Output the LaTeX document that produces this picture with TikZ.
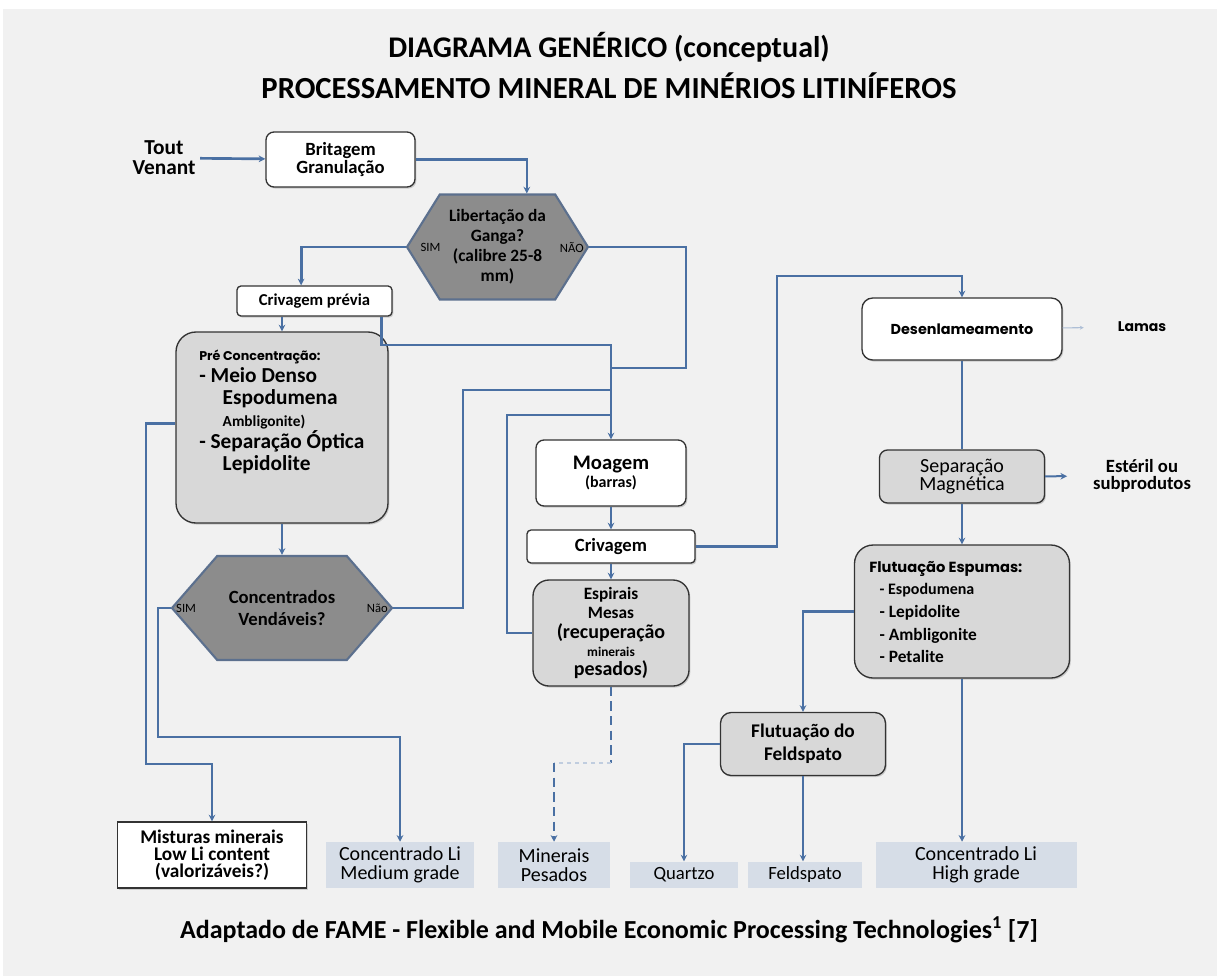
\documentclass[tikz,border=0pt]{standalone}
\usepackage{fontspec}
\setmainfont{Carlito}
\newfontfamily\geofont{Poppins}
\usetikzlibrary{arrows.meta,positioning,shapes.symbols,shadows}

\definecolor{flow}{RGB}{74,112,163}
\definecolor{panel}{RGB}{241,241,241}
\definecolor{procgray}{RGB}{216,216,216}
\definecolor{hexgray}{RGB}{140,140,140}
\definecolor{hexedge}{RGB}{92,112,142}
\definecolor{outblue}{RGB}{214,221,231}

\begin{document}
\begin{tikzpicture}[x=0.75pt, y=-0.75pt,
  box/.style={draw=black!80, line width=1pt, rounded corners=6pt, fill=white,
              align=center, inner sep=2pt, font=\bfseries\fontsize{12.5}{13}\selectfont,
              drop shadow={shadow xshift=1pt, shadow yshift=-1.2pt, opacity=.35}},
  gbox/.style={box, fill=procgray},
  hex/.style={shape=signal, signal to=east and west, draw=hexedge, line width=1.6pt,
              fill=hexgray, align=center, inner sep=0pt},
  prod/.style={fill=outblue, align=center, inner sep=0pt,
               font=\fontsize{15}{14.5}\selectfont},
  tag/.style={inner sep=1pt, font=\fontsize{9.5}{10}\selectfont},
  arr/.style={-{Stealth[length=5pt,width=5pt]}, flow, line width=2pt},
  ln/.style={flow, line width=2pt}]

  % panel
  \useasboundingbox (0,0) rectangle (1217,976);
  \fill[panel] (3,9) rectangle (1217,976);

  % title and source
  \node[font=\bfseries\fontsize{22.5}{23}\selectfont] (title1) at (609,47) {DIAGRAMA GENÉRICO (conceptual)};
  \node[font=\bfseries\fontsize{23}{23}\selectfont] (title2) at (609,86) {PROCESSAMENTO MINERAL DE MINÉRIOS LITINÍFEROS};
  \node[font=\bfseries\fontsize{19.5}{20}\selectfont] (fonte) at (609,930)
    {Adaptado de FAME - Flexible and Mobile Economic Processing Technologies\textsuperscript{1} [7]};

  % crushing and first decision
  \node[font=\bfseries\fontsize{16}{15}\selectfont, align=center] (tv) at (164,158) {Tout\\Venant};
  \node[box, minimum width=111.75pt, minimum height=41.25pt,
        font=\bfseries\fontsize{14}{14}\selectfont] (brit) at (340.5,159.5) {Britagem\\Granulação};
  \node[hex, minimum width=135.75pt, minimum height=78.75pt, signal pointer angle=116,
        font=\bfseries\fontsize{13}{15}\selectfont] (lib) at (497.5,247)
    {Libertação da\\Ganga?\\(calibre 25-8\\mm)};
  \node[tag, anchor=west] (libsim) at ([xshift=10pt]lib.west) {SIM};
  \node[tag, anchor=east] (libnao) at ([xshift=-3pt]lib.east) {NÃO};

  % pre-concentration branch
  \node[box, minimum width=116.25pt, minimum height=22.5pt, rounded corners=3pt] (crivp) at (314.5,301) {Crivagem prévia};
  \node[gbox, minimum width=159pt, minimum height=143.25pt, rounded corners=15pt] (pre) at (282,427.5) {};
  \node[anchor=north west, align=left, inner sep=0pt, font=\bfseries\fontsize{16}{16.5}\selectfont] (pretxt) at (199,350)
    {{\geofont\fontsize{9.5}{10}\selectfont Pré Concentração:}\\
     - Meio Denso\\
     \hspace*{1.1em}Espodumena\\
     \hspace*{1.1em}{\fontsize{11.5}{12}\selectfont Ambligonite)}\\
     - Separação Óptica\\
     \hspace*{1.1em}Lepidolite};
  \node[hex, minimum width=165pt, minimum height=78pt, signal pointer angle=98,
        font=\bfseries\fontsize{14}{16}\selectfont] (conc) at (282,608) {Concentrados\\Vendáveis?};
  \node[tag, anchor=west] (concsim) at ([xshift=3pt]conc.west) {SIM};
  \node[tag, anchor=east] (concnao) at ([xshift=-3pt]conc.east) {Não};

  % grinding and gravity
  \node[box, minimum width=112.5pt, minimum height=49.5pt] (moag) at (611,473)
    {{\fontsize{15.5}{15}\selectfont Moagem}\\[1pt]{\fontsize{12}{12}\selectfont (barras)}};
  \node[box, minimum width=126pt, minimum height=24.75pt, rounded corners=3pt,
        font=\bfseries\fontsize{14}{14}\selectfont] (criv) at (611,546.5) {Crivagem};
  \node[gbox, minimum width=117pt, minimum height=79.5pt, rounded corners=12pt,
        font=\bfseries\fontsize{15}{14}\selectfont] (espi) at (611,633)
    {{\fontsize{13}{13}\selectfont Espirais}\\{\fontsize{13}{13}\selectfont Mesas}\\[1pt](recuperação\\{\fontsize{10}{10}\selectfont minerais}\\pesados)};

  % desliming, magnetic separation, flotation
  \node[box, minimum width=150pt, minimum height=46.5pt, rounded corners=8pt,
        font=\geofont\bfseries\fontsize{10.8}{10}\selectfont] (desl) at (962,329) {Desenlameamento};
  \node[font=\geofont\bfseries\fontsize{10.5}{10}\selectfont] (lamas) at (1142,327) {Lamas};
  \node[gbox, minimum width=123.75pt, minimum height=39.75pt,
        font=\fontsize{15}{12.5}\selectfont] (sepm) at (962,476.5) {Separação\\Magnética};
  \node[font=\bfseries\fontsize{14}{13}\selectfont, align=center] (est) at (1142,476) {Estéril ou\\subprodutos};
  \node[gbox, minimum width=161.25pt, minimum height=99.75pt, rounded corners=14pt] (flue) at (962,611.5) {};
  \node[anchor=north west, align=left, inner sep=0pt, font=\bfseries\fontsize{13}{17}\selectfont] (fluetxt) at (869,561)
    {{\geofont\fontsize{11}{10}\selectfont Flutuação Espumas:}\\
     \hspace*{.6em}{\fontsize{12}{12}\selectfont - Espodumena}\\
     \hspace*{.6em}- Lepidolite\\
     \hspace*{.6em}- Ambligonite\\
     \hspace*{.6em}- Petalite};
  \node[gbox, minimum width=123.75pt, minimum height=47.25pt, rounded corners=8pt,
        font=\bfseries\fontsize{14.5}{17}\selectfont] (flfd) at (803,744) {Flutuação do\\Feldspato};

  % products
  \node[draw=black!80, fill=white, line width=1pt, align=center, inner sep=0pt,
        minimum width=141.75pt, minimum height=49.5pt, font=\bfseries\fontsize{14.5}{13}\selectfont,
        drop shadow={shadow xshift=1pt, shadow yshift=-1.2pt, opacity=.3}] (mist) at (212,855)
    {Misturas minerais\\Low Li content\\(valorizáveis?)};
  \node[prod, minimum width=111pt, minimum height=34.5pt] (medg) at (400,865) {Concentrado Li\\Medium grade};
  \node[prod, minimum width=84pt, minimum height=34.5pt] (minp) at (554,865) {Minerais\\Pesados};
  \node[prod, minimum width=81pt, minimum height=20pt, font=\fontsize{14}{14}\selectfont] (quar) at (684,875) {Quartzo};
  \node[prod, minimum width=85.5pt, minimum height=20pt, font=\fontsize{14}{14}\selectfont] (feld) at (805,875) {Feldspato};
  \node[prod, minimum width=150.75pt, minimum height=34.5pt] (high) at (976,865) {Concentrado Li\\High grade};

  % junctions
  \coordinate (j1) at (611,345);
  \coordinate (j2) at (686,368);
  \coordinate (j3) at (463,390);
  \coordinate (j4) at (507,415);
  \coordinate (j5) at (146,764);
  \coordinate (j6) at (158,737);
  \coordinate (j7) at (777,276);
  \coordinate (d1) at (611,763);
  \coordinate (d2) at (554,763);

  % connectors
  \draw[arr] (tv) -- (brit);
  \draw[arr] (brit.east) -| ([xshift=22pt]lib.north);
  \draw[arr] (lib.west) -| ([xshift=-10pt]crivp.north);
  \draw[ln] (lib.east) -| (j2) -- (j2 -| moag.north);
  \draw[arr] ([xshift=50pt]crivp.south) |- (j1) -- (moag.north);
  \draw[arr] (pre.north |- crivp.south) -- (pre.north);
  \draw[arr] (pre.south) -- (conc.north);
  \draw[ln] (conc.east) -| (j3) -- (j3 -| moag.north);
  \draw[ln] (espi.west) -| (j4) -- (j4 -| moag.north);
  \draw[arr] ([yshift=3pt]pre.west) -| (j5) -| (mist.north);
  \draw[arr] (conc.west) -| (j6) -| (medg.north);
  \draw[arr] (moag) -- (criv);
  \draw[arr] (criv) -- (espi);
  \draw[ln, dash pattern=on 7pt off 4pt] (espi.south) -- (d1);
  \draw[flow!35, line width=1pt, dashed] (d1) -- (d2);
  \draw[arr, dash pattern=on 7pt off 4pt] (d2) -- (minp.north);
  \draw[arr] (criv.east) -| (j7) -| (desl.north);
  \draw[-{Stealth[length=3pt,width=3pt]}, flow!45, line width=.8pt, shorten >=22pt] (desl) -- (lamas);
  \draw[ln] (desl) -- (sepm);
  \draw[arr, line width=1.5pt, shorten >=16pt] (sepm) -- (est);
  \draw[arr] (sepm) -- (flue);
  \draw[arr] (flue.west) -| (flfd.north);
  \draw[arr] (flue.south) -- (flue.south |- high.north);
  \draw[arr] (flfd.west) -| (quar.north);
  \draw[arr] (flfd.south) -- (flfd.south |- feld.north);
\end{tikzpicture}
\end{document}
